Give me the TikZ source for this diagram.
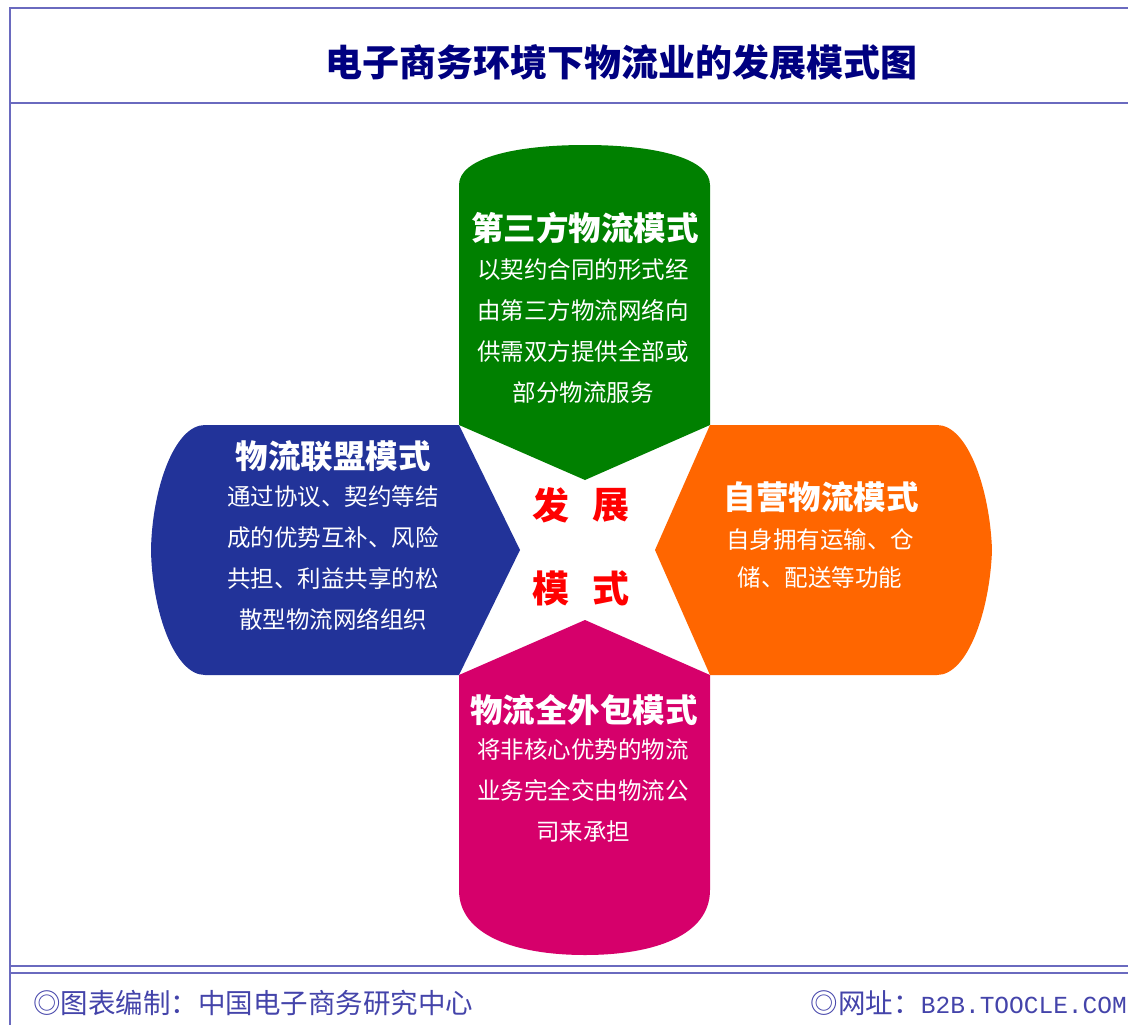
\documentclass[tikz,border=0pt]{standalone}
\usepackage{fontspec}
\setmainfont{Noto Sans CJK SC}
\newfontfamily\latinmono{Liberation Mono}
\definecolor{framec}{HTML}{6A6ABF}
\definecolor{titlec}{HTML}{000080}
\definecolor{footc}{HTML}{4444AA}
\definecolor{armgreen}{HTML}{008000}
\definecolor{armblue}{HTML}{223399}
\definecolor{armorange}{HTML}{FF6600}
\definecolor{armmag}{HTML}{D6006B}
\definecolor{centerred}{HTML}{FF0000}
\tikzset{
  frameline/.style={draw=framec, line width=2pt},
  headtext/.style={text=white, font=\fontsize{32.5}{32.5}\selectfont\bfseries, inner sep=0pt},
  bodytext/.style={text=white, font=\fontsize{23.5}{41}\selectfont, align=center, inner sep=0pt},
  centertext/.style={text=centerred, font=\fontsize{37}{37}\selectfont\bfseries, inner sep=0pt},
  foottext/.style={text=footc, font=\fontsize{27.5}{27.5}\selectfont, inner sep=0pt}
}
\begin{document}
\begin{tikzpicture}[x=1pt,y=-1pt]
\useasboundingbox (0,0) rectangle (1128,1025);
\fill[white] (0,0) rectangle (1128,1025);
% frame
\draw[frameline] (1128,8) -- (10,8) -- (10,1025);
\draw[frameline] (10,103) -- (1128,103);
\draw[frameline] (10,966) -- (1128,966);
\draw[frameline] (10,973) -- (1128,973);
% title
\node[text=titlec, font=\fontsize{37}{37}\selectfont\bfseries, inner sep=0pt] (title) at (621,62) {电子商务环境下物流业的发展模式图};
% green arm (top)
\fill[armgreen] (459,425) -- (459,185) .. controls (459,158) and (515,145) .. (585,145)
  .. controls (655,145) and (710,158) .. (710,185) -- (710,425) -- (585,480) -- cycle;
% blue arm (left)
\fill[armblue] (459,425) -- (520,550) -- (459,675) -- (205,675)
  .. controls (174,675) and (152,610) .. (151,550)
  .. controls (152,490) and (174,425) .. (205,425) -- cycle;
% orange arm (right)
\fill[armorange] (710,425) -- (655,550) -- (710,675) -- (937,675)
  .. controls (968,675) and (990,610) .. (992,550)
  .. controls (990,490) and (968,425) .. (937,425) -- cycle;
% magenta arm (bottom)
\fill[armmag] (459,675) -- (585,620) -- (710,675) -- (710,890)
  .. controls (710,935) and (655,955) .. (585,955)
  .. controls (515,955) and (459,935) .. (459,890) -- cycle;
% green text
\node[headtext] (gh) at (585,228) {第三方物流模式};
\node[bodytext] (gb) at (583,331.5) {以契约合同的形式经\\由第三方物流网络向\\供需双方提供全部或\\部分物流服务};
% blue text
\node[headtext] (bh) at (333,456) {物流联盟模式};
\node[bodytext] (bb) at (333,558.5) {通过协议、契约等结\\成的优势互补、风险\\共担、利益共享的松\\散型物流网络组织};
% orange text
\node[headtext] (oh) at (821,497) {自营物流模式};
\node[bodytext, font=\fontsize{23.5}{38}\selectfont] (ob) at (820,559) {自身拥有运输、仓\\储、配送等功能};
% magenta text
\node[headtext] (mh) at (584,710) {物流全外包模式};
\node[bodytext] (mb) at (583,791) {将非核心优势的物流\\业务完全交由物流公\\司来承担};
% center text
\node[centertext] (c1) at (551,505) {发};
\node[centertext] (c2) at (611,505) {展};
\node[centertext] (c3) at (551,588) {模};
\node[centertext] (c4) at (611,588) {式};
% footer
\node[foottext, anchor=west] (fl) at (33,1003) {◎图表编制：中国电子商务研究中心};
\node[foottext, anchor=east] (fr) at (1127,1003) {◎网址：{\latinmono\fontsize{24.5}{24.5}\selectfont B2B.TOOCLE.COM}};
\end{tikzpicture}
\end{document}
